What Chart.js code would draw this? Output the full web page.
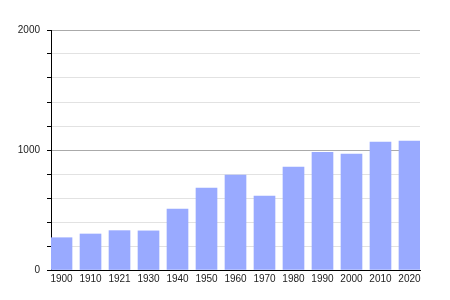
<!DOCTYPE html>
<html>
<head>
<meta charset="utf-8">
<script src="https://cdn.jsdelivr.net/npm/chart.js@4"></script>
<style>
  html, body { margin: 0; padding: 0; background: #fff; }
  #wrap { width: 450px; height: 300px; }
</style>
</head>
<body>
<div id="wrap"><canvas id="popChart"></canvas></div>
<script>
// --- Data ---
const years = ['1900', '1910', '1921', '1930', '1940', '1950', '1960', '1970', '1980', '1990', '2000', '2010', '2020'];
const population = [269, 300, 328, 326, 508, 683, 792, 617, 858, 981, 967, 1067, 1075];
const yTickLabels = [0, 1000, 2000];

// bars sit on a linear index axis so the first and last ones touch the plot edges
const points = population.map((v, i) => ({ x: i, y: v }));

const ctx = document.getElementById('popChart');
new Chart(ctx, {
    type: 'bar',
    data: {
        datasets: [{
            data: points,
            backgroundColor: '#99aaff',
            borderWidth: 0,
            barThickness: 21
        }]
    },
    options: {
        responsive: true,
        maintainAspectRatio: false,
        animation: false,
        layout: { padding: { top: 30, right: 30, left: 0, bottom: 0 } },
        plugins: { legend: { display: false }, tooltip: { enabled: false } },
        scales: {
            x: {
                type: 'linear',
                offset: false,
                min: -0.3625,
                max: years.length - 1 + 0.3625,
                afterBuildTicks: axis => { axis.ticks = years.map((y, i) => ({ value: i })); },
                afterFit: axis => { axis.height = 30; },
                grid: { display: false, drawTicks: false },
                border: { color: '#000', width: 1 },
                ticks: {
                    autoSkip: false,
                    maxRotation: 0,
                    padding: 3,
                    color: '#222',
                    font: { family: 'Liberation Sans', size: 10 },
                    callback: v => years[v]
                }
            },
            y: {
                min: 0,
                max: 2000,
                afterFit: axis => { axis.width = 51; },
                afterBuildTicks: axis => {
                    const t = [];
                    for (let v = 0; v <= 2000; v += 200) t.push({ value: v });
                    axis.ticks = t;
                },
                grid: {
                    color: c => (c.tick && c.tick.value % 1000 === 0) ? '#aaaaaa' : '#e2e2e2',
                    tickColor: '#000',
                    tickLength: 4
                },
                border: { color: '#000', width: 1 },
                ticks: {
                    padding: 7,
                    color: '#222',
                    font: { family: 'Liberation Sans', size: 10 },
                    callback: v => yTickLabels.includes(v) ? String(v) : ''
                }
            }
        }
    }
});
</script>
</body>
</html>
